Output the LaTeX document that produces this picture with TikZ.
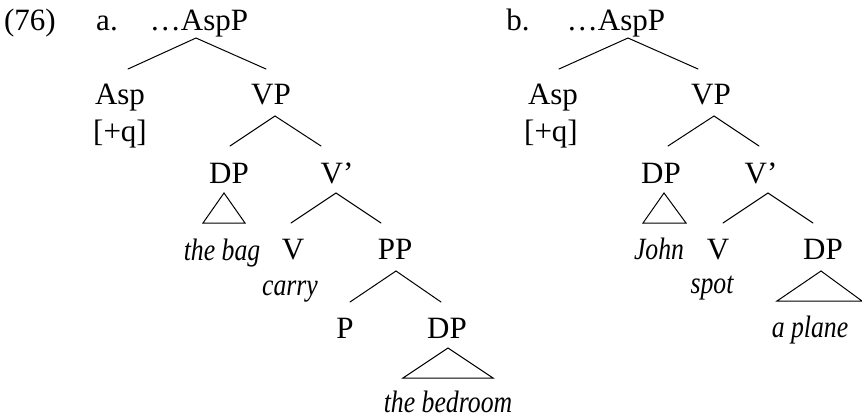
\documentclass[tikz,border=0pt]{standalone}
\usepackage{fontspec}
\setmainfont{Liberation Serif}
\newcommand\itx[1]{\scalebox{0.83}[1]{\fontsize{31}{36}\selectfont\itshape #1}}
\tikzset{
  lbl/.style={anchor=base,inner sep=0pt,font=\fontsize{31}{36}\selectfont},
  br/.style={line width=1pt,line join=miter,line cap=round}
}
\begin{document}
\begin{tikzpicture}[x=1pt,y=-1pt]
\useasboundingbox (0,0) rectangle (862,418);
% ---------- labels a ----------
\node[lbl] (ex) at (30,30) {(76)};
\node[lbl] (la) at (107,30) {a.};
\node[lbl] (aAspP) at (199,30) {\dots AspP};
\node[lbl] (aAsp) at (120,104) {Asp};
\node[lbl] (aq) at (120,141) {[+q]};
\node[lbl] (aVP) at (271,104) {VP};
\node[lbl] (aDP) at (229,183) {DP};
\node[lbl] (aVb) at (337,183) {V’};
\node[lbl] (abag) at (222,260) {\itx{the bag}};
\node[lbl] (aV) at (293,259) {V};
\node[lbl] (acarry) at (290,295) {\itx{carry}};
\node[lbl] (aPP) at (395,259) {PP};
\node[lbl] (aP) at (345,338) {P};
\node[lbl] (aDP2) at (447,338) {DP};
\node[lbl] (abed) at (448,412) {\itx{the bedroom}};
% ---------- labels b ----------
\node[lbl] (lb) at (518,30) {b.};
\node[lbl] (bAspP) at (616,30) {\dots AspP};
\node[lbl] (bAsp) at (553,104) {Asp};
\node[lbl] (bq) at (551,141) {[+q]};
\node[lbl] (bVP) at (711,104) {VP};
\node[lbl] (bDP) at (661,183) {DP};
\node[lbl] (bVb) at (761,183) {V’};
\node[lbl] (bjohn) at (659,259) {\itx{John}};
\node[lbl] (bV) at (718,259) {V};
\node[lbl] (bspot) at (712,293) {\itx{spot}};
\node[lbl] (bDP2) at (823,259) {DP};
\node[lbl] (bplane) at (810,337) {\itx{a plane}};
% ---------- branch points a ----------
\coordinate (aT) at (196,38);  \coordinate (aTl) at (128,69);  \coordinate (aTr) at (266,69);
\coordinate (aVPt) at (275,116); \coordinate (aVPl) at (230,146); \coordinate (aVPr) at (321,146);
\coordinate (aDPt) at (224,193); \coordinate (aDPl) at (203,223); \coordinate (aDPr) at (245,223);
\coordinate (aVbt) at (336,193); \coordinate (aVbl) at (291,223); \coordinate (aVbr) at (381,223);
\coordinate (aPPt) at (396,271); \coordinate (aPPl) at (350,302); \coordinate (aPPr) at (441,302);
\coordinate (aD2t) at (448,348); \coordinate (aD2l) at (403,378); \coordinate (aD2r) at (493,378);
% ---------- branch points b ----------
\coordinate (bT) at (628,38);  \coordinate (bTl) at (559,69);  \coordinate (bTr) at (698,69);
\coordinate (bVPt) at (714,116); \coordinate (bVPl) at (668,146); \coordinate (bVPr) at (759,146);
\coordinate (bDPt) at (664,193); \coordinate (bDPl) at (643,223); \coordinate (bDPr) at (686,223);
\coordinate (bVbt) at (768,193); \coordinate (bVbl) at (723,223); \coordinate (bVbr) at (813,223);
\coordinate (bD2t) at (821,271); \coordinate (bD2l) at (777,301); \coordinate (bD2r) at (862,301);
% ---------- branches ----------
\draw[br] (aTl) -- (aT) -- (aTr);
\draw[br] (aVPl) -- (aVPt) -- (aVPr);
\draw[br] (aDPl) -- (aDPt) -- (aDPr) -- cycle;
\draw[br] (aVbl) -- (aVbt) -- (aVbr);
\draw[br] (aPPl) -- (aPPt) -- (aPPr);
\draw[br] (aD2l) -- (aD2t) -- (aD2r) -- cycle;
\draw[br] (bTl) -- (bT) -- (bTr);
\draw[br] (bVPl) -- (bVPt) -- (bVPr);
\draw[br] (bDPl) -- (bDPt) -- (bDPr) -- cycle;
\draw[br] (bVbl) -- (bVbt) -- (bVbr);
\draw[br] (bD2l) -- (bD2t) -- (bD2r) -- cycle;
\end{tikzpicture}
\end{document}
